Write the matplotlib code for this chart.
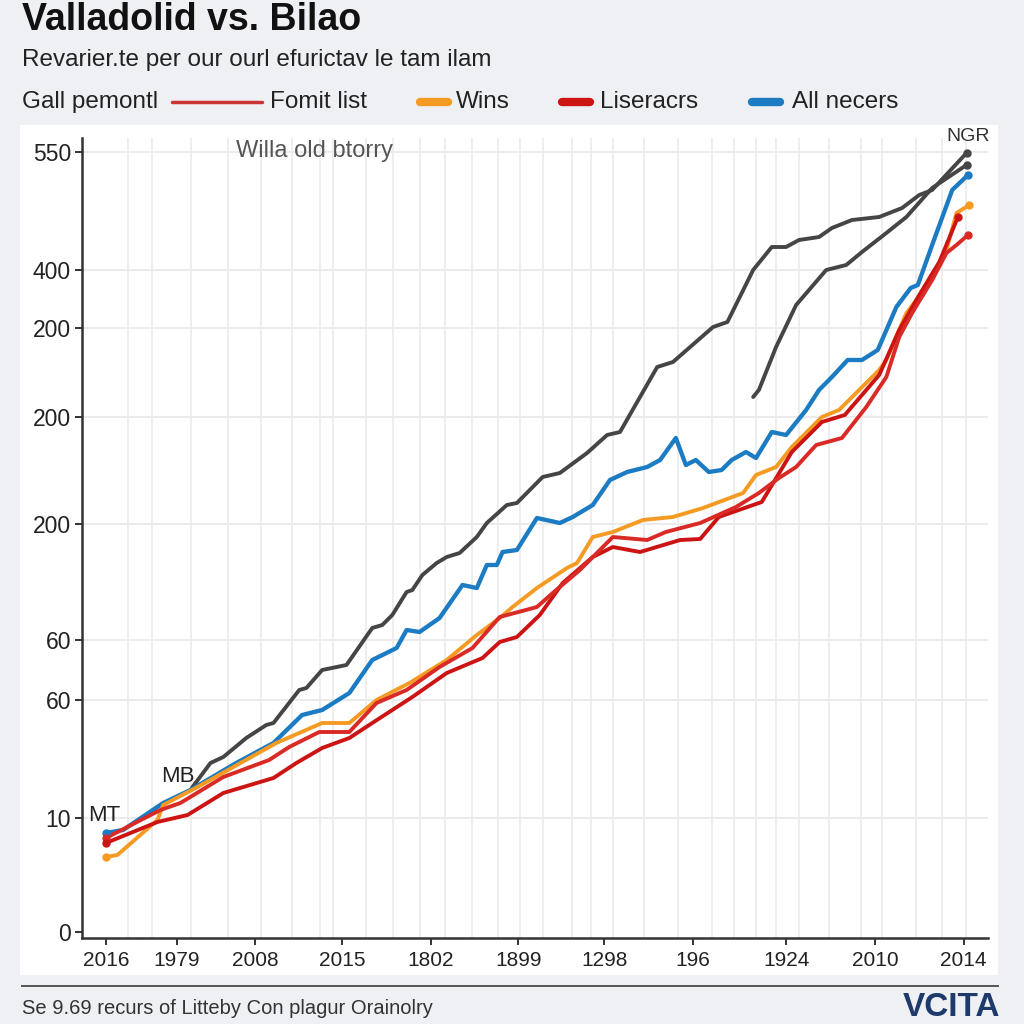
import matplotlib.pyplot as plt
from matplotlib.lines import Line2D
from matplotlib.patches import Rectangle

# ---- data ----
blue_x = [0, 1.2, 4.0, 5.9, 9.1, 11.7, 13.7, 15.1, 17.0, 18.6, 20.3, 21.0, 21.9, 23.3, 24.9, 25.9,
          26.6, 27.3, 27.7, 28.7, 30.1, 31.7, 32.6, 34.0, 35.2, 36.4, 37.8, 38.7, 39.8, 40.5, 41.2,
          42.1, 43.0, 43.7, 44.7, 45.4, 46.5, 47.5, 48.9, 49.8, 50.7, 51.8, 52.8, 53.9, 55.2, 56.2,
          56.7, 57.7, 59.1, 60.2]
blue_y = [73.5, 75.6, 94.5, 103.6, 122.5, 136.5, 156.1, 159.6, 171.5, 194.6, 203, 215.6, 214.2, 224,
          247.1, 245, 261.1, 261.1, 270.2, 271.6, 294, 290.5, 294.7, 303.1, 320.6, 326.2, 329.7,
          334.6, 350, 331.1, 334.6, 326.2, 327.6, 334.6, 340.2, 336, 354.2, 352.1, 369.6, 383.6,
          392.7, 404.6, 404.6, 411.6, 441.7, 455, 457.1, 485.1, 523.6, 534.1]

gray1_x = [6.0, 7.3, 8.2, 9.8, 11.2, 11.7, 13.5, 14.0, 15.1, 16.8, 18.6, 19.3, 20.0, 21.0, 21.4, 22.1,
           23.1, 23.8, 24.7, 25.9, 26.6, 28.0, 28.7, 30.5, 31.7, 33.6, 35.0, 35.9, 37.3, 38.5, 39.6,
           42.4, 43.4, 45.2, 46.5, 47.5, 48.4, 49.8, 50.7, 52.1, 54.0, 55.6, 56.8, 57.7, 60.1]
gray1_y = [105, 122.5, 126.7, 140, 149.1, 150.5, 173.6, 175, 187.6, 191.1, 217, 219.1, 226.1, 242.2,
           243.6, 254.1, 262.5, 266.7, 269.5, 280.7, 290.5, 303.1, 304.5, 322.7, 325.5, 339.5, 352.1,
           354.2, 378.7, 399.7, 403.2, 427.7, 431.2, 467.6, 483.7, 483.7, 488.6, 490.7, 497, 502.6,
           504.7, 511, 520.1, 523.6, 549.5]

gray2_x = [45.2, 45.6, 46.8, 48.2, 50.3, 51.7, 52.8, 54.5, 55.9, 57.7, 60.1]
gray2_y = [378.7, 383.6, 413.7, 443.1, 467.6, 471.1, 480.2, 493.5, 504.7, 525, 541.1]

orange_x = [0, 0.8, 3.6, 4.0, 6.4, 9.4, 11.9, 15.1, 17.0, 18.9, 21.2, 23.8, 25.9, 27.5, 28.4, 30.1,
            32.2, 32.9, 34.0, 35.4, 37.5, 39.6, 41.7, 44.5, 45.4, 46.8, 47.9, 50.0, 51.2, 54.0,
            54.5, 55.9, 57.3, 58.7, 59.4, 60.3]
orange_y = [56.7, 58.1, 82.6, 93.1, 105.7, 122.5, 136.5, 150.5, 150.5, 166.6, 178.5, 194.6, 212.1,
            224, 231.7, 245, 259, 262.5, 280.7, 284.2, 292.6, 294.7, 301, 311.5, 324.1, 329.7, 343.7,
            364.7, 369.6, 397.6, 404.6, 437.5, 455.7, 481.6, 507.5, 513.1]

reda_x = [0, 3.8, 5.2, 8.2, 11.4, 12.8, 14.9, 17.0, 18.9, 21.0, 23.3, 25.6, 27.5, 30.1, 31.2, 33.1,
          35.4, 37.8, 39.1, 41.5, 44.0, 45.6, 47.0, 48.2, 49.6, 51.4, 53.1, 54.5, 55.4, 56.3, 57.7,
          58.7, 59.4, 60.2]
reda_y = [70, 89.6, 94.5, 112.7, 124.6, 133.7, 144.2, 144.2, 164.5, 173.6, 189.7, 203, 224.7, 231.7,
          241.5, 257.6, 280.7, 278.6, 284.2, 290.5, 301.7, 311.5, 322, 329.7, 345.1, 350, 371.7,
          392.7, 420.7, 437.5, 460.6, 479.5, 485.1, 492.1]

redb_x = [0, 3.6, 5.7, 8.2, 11.7, 13.3, 15.1, 17.0, 18.6, 21.4, 23.8, 26.3, 27.5, 28.7, 30.3, 31.9,
          34.0, 35.4, 37.3, 39.4, 40.1, 41.5, 42.8, 44.2, 45.8, 47.9, 50.0, 51.6, 54.0, 55.4, 56.8,
          58.2, 59.5]
redb_y = [66.5, 81.2, 86.1, 101.5, 112, 122.5, 133, 140, 150.5, 168.7, 185.5, 196, 207.2, 210.7,
          226.1, 248.5, 266.7, 273.7, 270.2, 276.5, 278.6, 279.3, 294.7, 299.6, 305.2, 340.2, 361.2,
          366.1, 394.1, 425.6, 450.1, 473.2, 504.7]

x_ticks = [0, 4.95, 10.4, 16.5, 22.7, 28.8, 34.8, 41.0, 47.5, 53.7, 59.9]
x_labels = ['2016', '1979', '2008', '2015', '1802', '1899', '1298', '196', '1924', '2010', '2014']
y_ticks = [4.2, 84, 166.6, 208.6, 289.8, 364.7, 427, 467.6, 550.2]
y_labels = ['0', '10', '60', '60', '200', '200', '200', '400', '550']
grid_x = [1.54, 3.21, 5.93, 8.51, 10.82, 12.98, 14.93, 15.84, 18.14, 20.03, 21.91, 23.66, 25.54,
          27.36, 28.89, 30.49, 32.52, 33.91, 35.38, 37.61, 39.92, 42.36, 43.89, 45.43, 46.83,
          48.43, 50.52, 52.76, 54.22, 56.6, 58.41, 60.08]

BLUE = '#1b7bc3'
ORANGE = '#f59a23'
RED_A = '#d92a26'
RED_B = '#cc1414'
GRAY = '#454545'

plt.rcParams['font.family'] = ['Liberation Sans', 'DejaVu Sans']

fig = plt.figure(figsize=(10.24, 10.24), dpi=100)
fig.patch.set_facecolor('#eef0f4')
fig.patches.append(Rectangle((20 / 1024, 1 - 975 / 1024), 978 / 1024, 850 / 1024,
                             transform=fig.transFigure, facecolor='white', edgecolor='none',
                             zorder=-5))

ax = fig.add_axes([82 / 1024, 1 - 938 / 1024, 906 / 1024, 800 / 1024])
ax.set_zorder(2)
ax.set_facecolor('white')
ax.set_xlim(-1.67, 61.6)
ax.set_ylim(0, 560)

for gx in grid_x:
    ax.axvline(gx, color='#ebebeb', lw=1.2, zorder=1)
for gy in y_ticks[1:]:
    ax.axhline(gy, color='#ebebeb', lw=1.4, zorder=1)

lw = 2.8
ax.plot(gray1_x, gray1_y, color=GRAY, lw=lw, zorder=3, solid_capstyle='round')
ax.plot(gray2_x, gray2_y, color=GRAY, lw=lw, zorder=3, solid_capstyle='round')
ax.plot(blue_x, blue_y, color=BLUE, lw=lw + 0.3, zorder=4, solid_capstyle='round')
ax.plot(orange_x, orange_y, color=ORANGE, lw=lw, zorder=5, solid_capstyle='round')
ax.plot(redb_x, redb_y, color=RED_B, lw=lw, zorder=5, solid_capstyle='round')
ax.plot(reda_x, reda_y, color=RED_A, lw=lw, zorder=6, solid_capstyle='round')

# start dots on the coloured series, end dots on every series
for xs, ys, c in [(blue_x, blue_y, BLUE), (orange_x, orange_y, ORANGE),
                  (reda_x, reda_y, RED_A), (redb_x, redb_y, RED_B)]:
    ax.plot(xs[0], ys[0], 'o', color=c, ms=5, zorder=7)
for xs, ys, c in [(gray1_x, gray1_y, GRAY), (gray2_x, gray2_y, GRAY), (blue_x, blue_y, BLUE),
                  (orange_x, orange_y, ORANGE), (reda_x, reda_y, RED_A), (redb_x, redb_y, RED_B)]:
    ax.plot(xs[-1], ys[-1], 'o', color=c, ms=5, zorder=7)

ax.set_xticks(x_ticks)
ax.set_xticklabels(x_labels, fontsize=15, color='#222')
ax.set_yticks(y_ticks)
ax.set_yticklabels(y_labels, fontsize=16.5, color='#222')
ax.tick_params(axis='both', length=5, width=1.4, color='#333')
ax.tick_params(axis='y', pad=3)
ax.tick_params(axis='x', pad=4)
for s in ['top', 'right']:
    ax.spines[s].set_visible(False)
for s in ['left', 'bottom']:
    ax.spines[s].set_color('#333')
    ax.spines[s].set_linewidth(1.8)

ax.text(14.6, 551, 'Willa old btorry', fontsize=17, color='#555', ha='center', va='center')
ax.text(60.2, 561, 'NGR', fontsize=14, color='#333', ha='center', va='center', clip_on=False)
ax.text(5.0, 113, 'MB', fontsize=16, color='#222', ha='center', va='center', zorder=8)
ax.text(-0.1, 86, 'MT', fontsize=16, color='#222', ha='center', va='center', zorder=8)

# header
fig.text(22 / 1024, 1 - 20 / 1024, 'Valladolid vs. Bilao', fontsize=27, fontweight='bold',
         color='#111', va='center')
fig.text(22 / 1024, 1 - 60 / 1024, 'Revarier.te per our ourl efurictav le tam ilam', fontsize=17.5,
         color='#222', va='center')

ly = 1 - 102 / 1024
fig.text(22 / 1024, ly, 'Gall pemontl', fontsize=17.5, color='#222', va='center')
legend_items = [
    (172, 262, 2.5, '#cc3333', 270, 'Fomit list'),
    (420, 448, 6, ORANGE, 456, 'Wins'),
    (562, 590, 6, RED_B, 600, 'Liseracrs'),
    (752, 780, 6, BLUE, 792, 'All necers'),
]
for x0, x1, w, c, tx, lab in legend_items:
    fig.add_artist(Line2D([x0 / 1024, x1 / 1024], [ly, ly], transform=fig.transFigure, color=c,
                          lw=w, solid_capstyle='round'))
    fig.text(tx / 1024, ly, lab, fontsize=17.5, color='#222', va='center')

# footer
fig.add_artist(Line2D([22 / 1024, 998 / 1024], [1 - 986 / 1024, 1 - 986 / 1024],
                      transform=fig.transFigure, color='#555', lw=1.4))
fig.text(22 / 1024, 1 - 1008 / 1024, 'Se 9.69 recurs of Litteby Con plagur Orainolry', fontsize=14.5,
         color='#333', va='center')
fig.text(1000 / 1024, 1 - 1007 / 1024, 'VCITA', fontsize=24, fontweight='bold', color='#1d3a6a',
         ha='right', va='center')

fig.savefig('out.png', dpi=100, facecolor=fig.get_facecolor())
